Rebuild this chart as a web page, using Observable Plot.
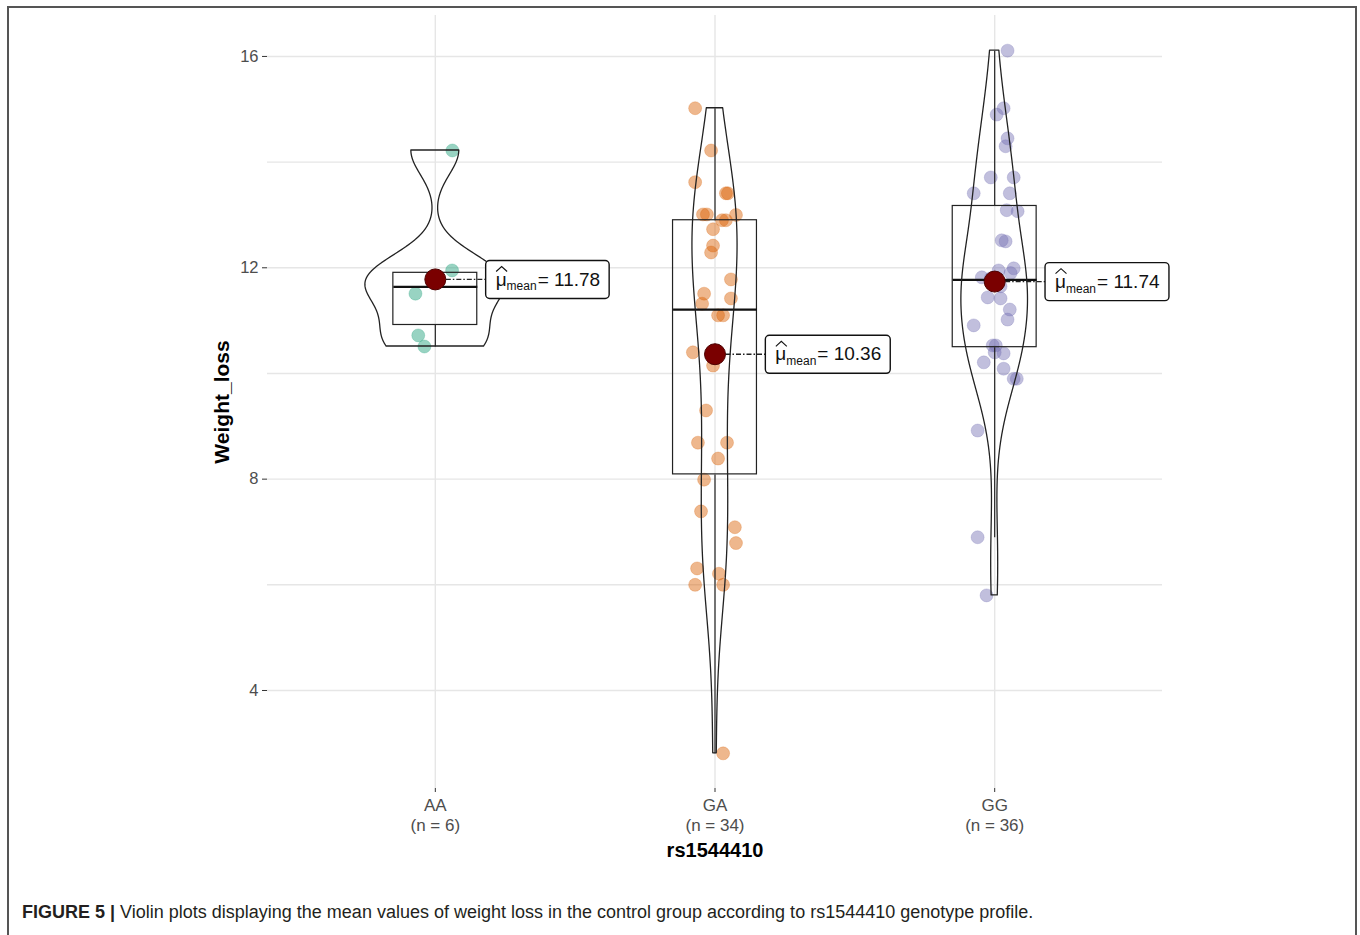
<!DOCTYPE html>
<html>
<head>
<meta charset="utf-8">
<script src="https://cdn.jsdelivr.net/npm/d3@7"></script>
<script src="https://cdn.jsdelivr.net/npm/@observablehq/plot@0.6"></script>
<style>
  html, body { margin: 0; padding: 0; background: #fff; }
  body { width: 1360px; height: 935px; position: relative; overflow: hidden; font-family: "Liberation Sans", Arial, sans-serif; }
  #chart { position: absolute; left: 0; top: 0; }
  #frame { position: absolute; left: 7px; top: 6px; width: 1350px; height: 980px; border: 2px solid #555; box-sizing: border-box; pointer-events: none; }
  #caption { position: absolute; left: 22px; top: 902px; font-size: 18px; color: #231f20; white-space: nowrap; }
  #caption b { font-weight: bold; }
</style>
</head>
<body>
<div id="chart"></div>
<div id="caption"><b>FIGURE 5 |</b> Violin plots displaying the mean values of weight loss in the control group according to rs1544410 genotype profile.</div>
<div id="frame"></div>
<script>
// ---------- data ----------
const genotypes = ["AA", "GA", "GG"];
const xTickLabels = ["AA\n(n = 6)", "GA\n(n = 34)", "GG\n(n = 36)"];
const yTicks = [4, 8, 12, 16];
const yGrid = [4, 6, 8, 10, 12, 14, 16];
const xLabel = "rs1544410";
const yLabel = "Weight_loss";

const aaValues = [14.22, 11.95, 11.51, 10.72, 10.51, 11.77];
const aaJitter = [0.061, 0.06, -0.071, -0.061, -0.039, 0.0];

const gaValues = [15.02, 14.22, 13.62, 13.41, 13.41, 13.00, 13.01, 13.01, 12.90, 12.90,
                  12.73, 12.42, 12.29, 11.78, 11.51, 11.42, 11.32, 11.10, 11.10, 10.40,
                  10.15, 9.30, 8.69, 8.69, 8.39, 7.99, 7.39, 7.09, 6.79, 6.31,
                  6.21, 6.00, 6.00, 2.81];
const gaJitter = [-0.071, -0.014, -0.071, 0.039, 0.046, 0.075, -0.043, -0.029, 0.025, 0.039,
                  -0.007, -0.007, -0.014, 0.057, -0.039, 0.057, -0.046, 0.011, 0.029, -0.079,
                  -0.007, -0.032, -0.061, 0.043, 0.011, -0.039, -0.050, 0.071, 0.075, -0.064,
                  0.014, -0.071, 0.029, 0.029];

const ggValues = [16.11, 15.02, 14.90, 14.45, 14.30, 13.71, 13.71, 13.41, 13.41, 13.09,
                  13.07, 12.52, 12.50, 11.99, 11.95, 11.90, 11.82, 11.80, 11.74, 11.65,
                  11.44, 11.42, 11.21, 11.02, 10.91, 10.53, 10.53, 10.40, 10.38, 10.21,
                  10.09, 9.90, 9.90, 8.92, 6.90, 5.80];
const ggJitter = [0.046, 0.032, 0.007, 0.046, 0.039, -0.014, 0.068, -0.075, 0.054, 0.043,
                  0.082, 0.025, 0.039, 0.068, 0.014, 0.057, -0.046, -0.014, 0.007, 0.021,
                  -0.025, 0.021, 0.054, 0.046, -0.075, -0.007, 0.004, 0.0, 0.032, -0.039,
                  0.032, 0.068, 0.079, -0.061, -0.061, -0.029];

const palette = ["#1B9E77", "#D95F02", "#7570B3"];

// ---------- derived tables ----------
const valueSets = [aaValues, gaValues, ggValues];
const jitterSets = [aaJitter, gaJitter, ggJitter];

const points = genotypes.flatMap((g, i) =>
  valueSets[i].map((v, j) => ({g, x: i + 1 + jitterSets[i][j], y: v})));

function bwNrd0(v) {
  const sd = d3.deviation(v);
  const iqr = d3.quantile(v, 0.75) - d3.quantile(v, 0.25);
  let lo = Math.min(sd, iqr / 1.34);
  if (!(lo > 0)) lo = sd || 1;
  return 0.9 * lo * Math.pow(v.length, -0.2);
}
function kde(v, n = 512) {
  const bw = bwNrd0(v);
  const lo = d3.min(v), hi = d3.max(v);
  const norm = 1 / (v.length * bw * Math.sqrt(2 * Math.PI));
  return d3.range(n).map(k => {
    const y = lo + (hi - lo) * k / (n - 1);
    let s = 0;
    for (const x of v) { const z = (y - x) / bw; s += Math.exp(-0.5 * z * z); }
    return {y, d: s * norm};
  });
}
const dens = valueSets.map(v => kde(v));
const maxD = d3.max(dens.flat(), d => d.d);
const violin = genotypes.flatMap((g, i) =>
  dens[i].map(p => ({g, y: p.y, x1: i + 1 - 0.25 * p.d / maxD, x2: i + 1 + 0.25 * p.d / maxD})));

const stats = genotypes.map((g, i) => {
  const v = valueSets[i];
  const q1 = d3.quantile(v, 0.25), q3 = d3.quantile(v, 0.75), med = d3.quantile(v, 0.5);
  const iqr = q3 - q1;
  const lo = d3.min(v.filter(x => x >= q1 - 1.5 * iqr));
  const hi = d3.max(v.filter(x => x <= q3 + 1.5 * iqr));
  return {g, pos: i + 1, q1, q3, med, lo, hi, mean: d3.mean(v)};
});

const labelGap = 0.18;

const plot = Plot.plot({
  width: 1360,
  height: 870,
  marginLeft: 267,
  marginRight: 198,
  marginTop: 15,
  marginBottom: 82,
  style: {fontFamily: "'Liberation Sans', Arial, sans-serif", fontSize: "15px", color: "#333", background: "none"},
  x: {domain: [0.4, 3.6]},
  y: {domain: [2.145, 16.775]},
  color: {domain: genotypes, range: palette},
  marks: [
    Plot.ruleY(yGrid, {stroke: "#e6e6e6", strokeWidth: 1.4}),
    Plot.ruleX([1, 2, 3], {stroke: "#e6e6e6", strokeWidth: 1.4}),
    Plot.axisY({ticks: yTicks, tickSize: 5, tickPadding: 4, fontSize: 16.5, label: null, tickFormat: d => String(d), fill: "#4d4d4d"}),
    Plot.axisX({ticks: [1, 2, 3], tickSize: 4, tickPadding: 5, fontSize: 17, label: null, lineHeight: 1.15,
                tickFormat: d => xTickLabels[d - 1], fill: "#4d4d4d"}),
    Plot.dot(points, {x: "x", y: "y", r: 6.5, fill: "g", fillOpacity: 0.45, stroke: "g", strokeOpacity: 0.25, strokeWidth: 1}),
    Plot.rect(stats, {x1: d => d.pos - 0.15, x2: d => d.pos + 0.15, y1: "q1", y2: "q3", fill: "none", stroke: "#222", strokeWidth: 1.2}),
    Plot.link(stats, {x1: "pos", x2: "pos", y1: "q3", y2: "hi", stroke: "#222", strokeWidth: 1.2}),
    Plot.link(stats, {x1: "pos", x2: "pos", y1: "q1", y2: "lo", stroke: "#222", strokeWidth: 1.2}),
    Plot.link(stats, {x1: d => d.pos - 0.15, x2: d => d.pos + 0.15, y1: "med", y2: "med", stroke: "#111", strokeWidth: 2.2}),
    Plot.areaX(violin, {y: "y", x1: "x1", x2: "x2", z: "g", fill: "none", stroke: "#222", strokeWidth: 1.3}),
    Plot.link(stats, {x1: "pos", x2: d => d.pos + labelGap, y1: "mean", y2: "mean", stroke: "#222", strokeWidth: 1.3, strokeDasharray: "5,2,1.5,2"}),
    Plot.dot(stats, {x: "pos", y: "mean", r: 10.5, fill: "#7a0000", stroke: "#4d0000", strokeWidth: 1}),
    Plot.text(stats, {x: d => d.pos + labelGap, y: "mean", text: d => d.mean.toFixed(2), textAnchor: "start", dx: 10,
                      fontSize: 19, fill: "#111", ariaDescription: "meanlabel"}),
    Plot.text([yLabel], {frameAnchor: "left", dx: -45, rotate: -90, textAnchor: "middle", lineAnchor: "middle",
                         fontSize: 21, fontWeight: "bold", fill: "#000"}),
    Plot.text([xLabel], {frameAnchor: "bottom", dy: 62, textAnchor: "middle", lineAnchor: "middle",
                         fontSize: 20, fontWeight: "bold", fill: "#000"})
  ]
});
document.getElementById("chart").appendChild(plot);

// Decorate mean labels: hat-mu with subscript, boxed with rounded border
const NS = "http://www.w3.org/2000/svg";
const labelTexts = plot.querySelectorAll('g[aria-description="meanlabel"] text');
labelTexts.forEach(t => {
  const val = t.textContent;
  t.textContent = "";
  const a = document.createElementNS(NS, "tspan"); a.textContent = "\u03BC"; t.appendChild(a);
  const b = document.createElementNS(NS, "tspan"); b.textContent = "mean"; b.setAttribute("dy", "5"); b.setAttribute("font-size", "12"); t.appendChild(b);
  const c = document.createElementNS(NS, "tspan"); c.textContent = "= " + val; c.setAttribute("dy", "-5"); c.setAttribute("dx", "1"); t.appendChild(c);
  const ab = a.getBBox();
  const bb = t.getBBox();
  const g = t.parentNode;
  const tr = t.getAttribute("transform");
  const r = document.createElementNS(NS, "rect");
  r.setAttribute("x", bb.x - 10); r.setAttribute("y", bb.y - 8);
  r.setAttribute("width", bb.width + 19); r.setAttribute("height", bb.height + 13);
  r.setAttribute("rx", 4); r.setAttribute("fill", "#fff"); r.setAttribute("stroke", "#111"); r.setAttribute("stroke-width", 1.4);
  if (tr) r.setAttribute("transform", tr);
  g.insertBefore(r, t);
  const hat = document.createElementNS(NS, "path");
  const hx1 = ab.x + 0.5, hx2 = ab.x + ab.width + 0.5, hy = ab.y + 3;
  hat.setAttribute("d", `M${hx1},${hy} L${(hx1 + hx2) / 2},${hy - 5} L${hx2},${hy}`);
  hat.setAttribute("fill", "none"); hat.setAttribute("stroke", "#111"); hat.setAttribute("stroke-width", 1.1);
  if (tr) hat.setAttribute("transform", tr);
  g.appendChild(hat);
});
</script>
</body>
</html>
